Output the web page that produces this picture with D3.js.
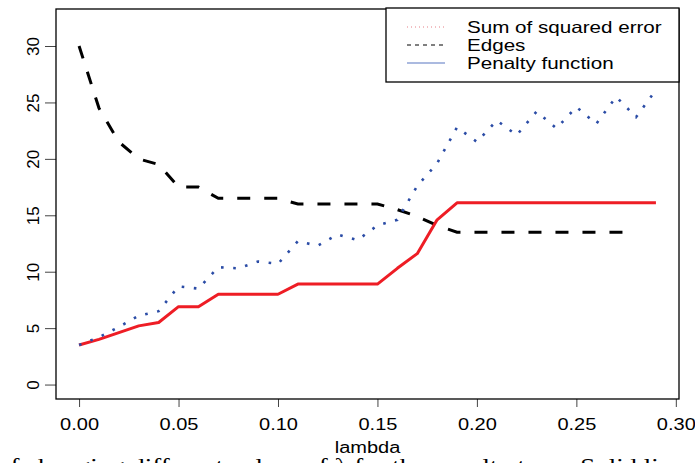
<!DOCTYPE html>
<html>
<head>
<meta charset="utf-8">
<script src="https://cdn.jsdelivr.net/npm/d3@7"></script>
<style>
  body { margin: 0; background: #fff; }
  svg { display: block; font-family: "Liberation Sans", Arial, sans-serif; }
</style>
</head>
<body>
<div id="chart"></div>
<script>

  // ---------------------------//
  //            DATA            //
  // ---------------------------//

  var lambda = [0.00, 0.01, 0.02, 0.03, 0.04, 0.05, 0.06, 0.07, 0.08, 0.09,
                0.10, 0.11, 0.12, 0.13, 0.14, 0.15, 0.16, 0.17, 0.18, 0.19,
                0.20, 0.21, 0.22, 0.23, 0.24, 0.25, 0.26, 0.27, 0.28, 0.29];

  var sse = [3.5, 4.2, 5.1, 6.1, 6.5, 8.7, 8.5, 10.4, 10.3, 10.9,
             10.7, 12.7, 12.3, 13.3, 12.8, 14.1, 14.6, 17.6, 19.6, 22.8,
             21.5, 23.4, 22.1, 24.2, 22.7, 24.6, 23.1, 25.5, 23.7, 26.1];

  // edges stops at 0.28
  var edges = [30, 24.5, 21.5, 20, 19.5, 17.5, 17.5, 16.5, 16.5, 16.5,
               16.5, 16, 16, 16, 16, 16, 15.5, 14.9, 14.1, 13.5,
               13.5, 13.5, 13.5, 13.5, 13.5, 13.5, 13.5, 13.5, 13.5];

  var penalty = [3.5, 4.0, 4.6, 5.2, 5.5, 6.9, 6.9, 8.0, 8.0, 8.0,
                 8.0, 8.9, 8.9, 8.9, 8.9, 8.9, 10.3, 11.6, 14.6, 16.1,
                 16.1, 16.1, 16.1, 16.1, 16.1, 16.1, 16.1, 16.1, 16.1, 16.1];

  var xTicks = [0, 0.05, 0.10, 0.15, 0.20, 0.25, 0.30];
  var yTicks = [0, 5, 10, 15, 20, 25, 30];

  var legendNames = ["Sum of squared error", "Edges", "Penalty function"];

  // ---------------------------//
  //         DIMENSIONS         //
  // ---------------------------//

  var width = 695;
  var height = 463;
  var plot = { left: 56, right: 679, top: 9, bottom: 399 };
  var stretch = 1.25;   // the source figure is squeezed wider than tall

  var svg = d3.select("#chart")
    .append("svg")
    .attr("width", width)
    .attr("height", height)
    .attr("viewBox", [0, 0, width, height]);

  // ---------------------------//
  //       AXIS  AND SCALE      //
  // ---------------------------//

  var x = d3.scaleLinear()
    .domain([-0.0116, 0.3016])
    .range([plot.left, plot.right]);

  var y = d3.scaleLinear()
    .domain([-1.28, 33.28])
    .range([plot.bottom, plot.top]);

  var xAxis = svg.append("g")
    .attr("transform", "translate(0," + plot.bottom + ")")
    .call(d3.axisBottom(x).tickValues(xTicks).tickFormat(d3.format(".2f")).tickSize(8));

  xAxis.select(".domain").remove();
  xAxis.selectAll("line").attr("stroke", "#444");
  xAxis.selectAll("text")
    .attr("y", 31)
    .attr("dy", 0)
    .attr("fill", "#000")
    .style("font-size", "16px")
    .attr("transform", "scale(" + stretch + ",1)");

  var yAxis = svg.append("g")
    .attr("transform", "translate(" + plot.left + ",0)")
    .call(d3.axisLeft(y).tickValues(yTicks).tickSize(11));

  yAxis.select(".domain").remove();
  yAxis.selectAll("line").attr("stroke", "#444");
  yAxis.selectAll("text")
    .attr("x", 0)
    .attr("y", -17)
    .attr("dy", 0)
    .attr("fill", "#000")
    .attr("text-anchor", "middle")
    .style("font-size", "17px")
    .attr("transform", "rotate(-90)");

  // box
  svg.append("rect")
    .attr("x", plot.left)
    .attr("y", plot.top)
    .attr("width", plot.right - plot.left)
    .attr("height", plot.bottom - plot.top)
    .attr("fill", "none")
    .attr("stroke", "#000")
    .attr("stroke-width", 1.3);

  // x label
  svg.append("text")
    .attr("transform", "translate(" + ((plot.left + plot.right) / 2) + ",453) scale(" + stretch + ",1)")
    .attr("text-anchor", "middle")
    .style("font-size", "16px")
    .text("lambda");

  // caption of the paper, cut by the picture edge
  svg.append("text")
    .attr("transform", "translate(-3,473) scale(1.28,1)")
    .style("font-family", "'Liberation Serif', 'DejaVu Serif', serif")
    .style("font-size", "21px")
    .text("of changing different values of \u03bb for the penalty term. Solid lines");

  // ---------------------------//
  //            LINES           //
  // ---------------------------//

  function series(values) {
    return values.map(function(v, i) { return { x: lambda[i], y: v }; });
  }

  var line = d3.line()
    .x(function(d) { return x(d.x); })
    .y(function(d) { return y(d.y); });

  svg.append("path")
    .datum(series(edges))
    .attr("fill", "none")
    .attr("stroke", "#000")
    .attr("stroke-width", 3)
    .attr("stroke-dasharray", "13,14")
    .attr("d", line);

  svg.append("path")
    .datum(series(penalty))
    .attr("fill", "none")
    .attr("stroke", "#ee1d25")
    .attr("stroke-width", 3)
    .attr("stroke-linejoin", "round")
    .attr("d", line);

  svg.append("path")
    .datum(series(sse))
    .attr("fill", "none")
    .attr("stroke", "#2b4ca6")
    .attr("stroke-width", 2.6)
    .attr("stroke-dasharray", "2.6,9.6")
    .attr("d", line);

  // ---------------------------//
  //           LEGEND           //
  // ---------------------------//

  var legend = svg.append("g");

  legend.append("rect")
    .attr("x", 386)
    .attr("y", 8)
    .attr("width", plot.right - 386)
    .attr("height", 74)
    .attr("fill", "#fff")
    .attr("stroke", "#000")
    .attr("stroke-width", 1.3);

  var legendStyles = [
    { stroke: "#e57f86", width: 1, dash: "1,3" },
    { stroke: "#000", width: 1, dash: "4,4" },
    { stroke: "#8fa3d6", width: 1.6, dash: null }
  ];

  legendNames.forEach(function(name, i) {
    var cy = 27 + i * 18;
    legend.append("line")
      .attr("x1", 407)
      .attr("x2", 445)
      .attr("y1", cy)
      .attr("y2", cy)
      .attr("stroke", legendStyles[i].stroke)
      .attr("stroke-width", legendStyles[i].width)
      .attr("stroke-dasharray", legendStyles[i].dash);

    legend.append("text")
      .attr("transform", "translate(467," + (cy + 6) + ") scale(" + stretch + ",1)")
      .style("font-size", "16.5px")
      .text(name);
  });

</script>
</body>
</html>
